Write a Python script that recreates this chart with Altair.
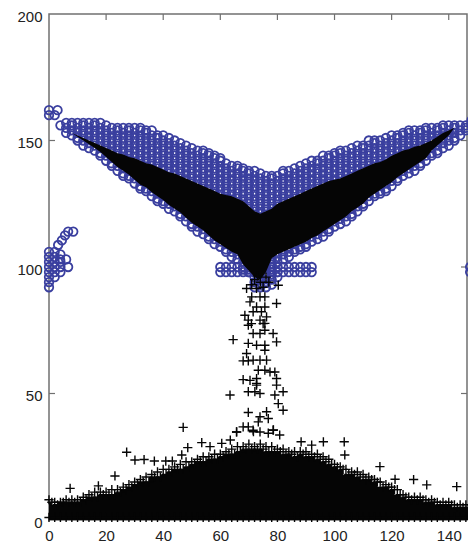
import altair as alt
import pandas as pd

band_x = list(range(4, 150, 2))
band_top = [156,157,157,157,157,157,157,157,156,155,155,155,155,155,155,154,153.5,152.5,151.5,151,150,149,147.5,147,146,145.5,145,144,143,141,140.5,140,139,138.5,138,137,136,135.5,136,137.5,138,139,140,141,142,142.5,143.5,144,145,145.5,146,147,147.5,148.5,149.5,150,150.5,151,151.5,152,153,153.5,154,154.5,155,155,155,155.5,155.5,156,156,156.5,157]
band_bot = [156,153,151.5,150,148.5,147,145.5,144,142,140,138,136.5,135,133,131,130,128,126.5,125,123,121.5,120,118,116,114.5,113,111,109,107.5,106,104.5,103,99,98,92,92,92,93,96,103,104.5,106,107,108.5,110,111,112.5,114,115.5,117,118.5,120.5,122,123.5,126,127.5,129,130.5,132,134,135.5,137,138.5,140,141.5,143.5,145,147,148.5,150.5,152.5,154.5,156]
shelf_x = list(range(60, 94, 2))
shelf_rows = [98, 100]
extra_x = [0,3,0,2,0,0,0,0,0,0,0,0,2,2,2,2,2,2,4,4,4,4,6.7,6,3.2,4.5,5.6,8.5,6.7,3.9,148,150,149,147.5,147.5]
extra_y = [162,162,160,160,92,94,96,98,100,102,104,106,96,98,100,102,104,106,98,100,102,105,100,103,108.7,110.5,112.5,114,114,103,158,158,156,98,100]

black_x = list(range(8, 144, 2))
black_top = [153,152,151,150,149,148,147,146,145,144.5,143.5,143,142,141,140.5,139.5,138.5,137.5,137,136,135,134,133,132,131,130,129,128.5,128,127,126,124,122,121,122,123,125,126,127,128,129,130,131,132,133,134,134.5,135,136,137,138,139,140,141,141.5,142.5,144,145,146,146.5,147.5,148,149,150,151.5,153,154,155]
black_bot = [153,151.5,150,148.5,147,145.5,143.5,141.5,139.5,138,136.5,134.5,132.5,131.5,129.5,128,126.5,124.5,123,121.5,119.5,117.5,116,114.5,112.5,110.5,109,107.5,106,105,101,98.5,96,95,98,103.5,105,106,107,108,109,110,111.5,112.5,114,115.5,117,118.5,120,122,123.5,125,127.5,129,130.5,132,133.5,135.5,137,138.5,140,141.5,143,146,148,150,152,155]

hill_x = list(range(0, 150, 2))
hill_top = [8,7,7,8,8,8,9,10,11,11,11,12,12,13,14,15,16,17,18,19,20,20,21,22,23,23,24,25,25,26,26,27,28,29,29,30,29,30,29,29,28,28,27,27,27,27,26,26,25,24,22,21,20,19,19,18,17,16,15,14,13,12,10,9,9,9,8,8,7,7,7,6,6,6,6]
hill_mid = [7,6,7,7,7,7,8,9,9,10,10,10,11,12,13,14,15,15,17,17,18,19,20,20,21,22,23,23,24,24,25,26,26,27,28,28,28,28,27,27,27,26,26,25,26,25,25,24,23,22,21,20,18,18,17,16,16,15,13,13,12,10,9,8,8,8,7,7,6,6,6,5,5,5,5]

neck_x = [69.2,72.7,80.3,71,73.9,75.6,79.7,70.4,72.7,75.6,71.5,74.4,68.6,69.8,73.9,76.2,75,70.9,64.5,69.8,75.6,71.5,73.9,78.5,75.6,69.8,72.7,75.6,79.7,75.6,68,69.8,71.5,73.9,76.2,69.2,73.3,75.6,77.4,79.1,68,70.4,72.7,72.7,79.7,63.4,69.8,72.7,72.1,73.9,79.1,79.7,82,80.3,69.8,73.3,76.2,76.8,73.9,82,69.8,71.5,73.9,65.7,68,78.5,72,74,76,71,75,77,73]
neck_y = [91.5,91.5,92.8,88.2,88.2,88.2,85.6,86.2,84.2,84.2,82.3,82.3,80.9,79,79,80.3,77.6,77.6,71.3,77,77.7,73.7,73.7,73.7,75,69.8,69.1,69.1,70.4,67.1,62.9,62.9,63.2,63.2,63.2,65.8,59.2,59.2,58.5,58.5,55.5,55.2,55.9,53.3,55.9,49.4,50.7,54,50.7,50,49.4,53.3,50.7,46,42.5,38.8,42.8,40.1,40.8,43.4,36.8,35.5,34.8,34.8,36.8,35.5,95,94,96,93,92,94,96.5]
out_x = [7.4,23.1,27.2,30.1,33.3,36.9,47,48.6,53.5,56.4,65.7,63.5,60.5,17.3,40.9,43.2,46.5,88.3,96.1,103.4,103.6,115.9,121.2,127.7,132.3,142.8,148.6,92,71.6,76.8,80.8,78.6]
out_y = [12.5,17.4,26.8,23.7,23.9,23.3,36.6,28.6,30.6,29,34.8,31.6,30.3,13.5,23.3,23.3,25.7,30.9,30.9,30.9,25.7,21.1,16.1,16,13.9,13.2,12.1,29.6,34.9,34.3,33.6,35.6]

x_ticks = [0,20,40,60,80,100,120,140]
y_ticks = [0,50,100,150,200]

BLUE = "#3a3f9f"
INK = "#050505"
FRAME = "#707070"
PLUS = "M-1,0H1M0,-1V1"

circ = []
for i, (x, t, b) in enumerate(zip(band_x, band_top, band_bot)):
    for y in range(round(b), round(t) + 1):
        if (y + i) % 2 == 0 or y == round(t) or y == round(b):
            circ.append({"x": x, "y": y})
for x in shelf_x:
    for y in shelf_rows:
        circ.append({"x": x, "y": y})
for x, y in zip(extra_x, extra_y):
    circ.append({"x": x, "y": y})
circ = pd.DataFrame(circ)

PLOT_W = 418
xs = alt.Scale(domain=[0, 146.4], nice=False, zero=False)
ys = alt.Scale(domain=[0, 200], nice=False, zero=False)
X = alt.X("x:Q", scale=xs, axis=alt.Axis(values=x_ticks, grid=False, domain=False, ticks=False, labelPadding=8,
          labelFontSize=15, labelFont="Liberation Sans", labelColor="#222", labelAngle=0, title=None, labelFlush=False, labelOverlap=False))
Y = alt.Y("y:Q", scale=ys, axis=alt.Axis(values=y_ticks, grid=False, domain=False, ticks=False, labelPadding=7, labelOffset=2,
          labelFontSize=15, labelFont="Liberation Sans", labelColor="#222", title=None))

circles = alt.Chart(circ).mark_point(shape="circle", filled=False, size=72, stroke=BLUE, strokeWidth=1.8, opacity=1).encode(x=X, y=Y)

cone = alt.Chart(pd.DataFrame({"x": black_x, "y": black_top, "y2": black_bot})).mark_area(color=INK, interpolate="linear").encode(
    x=X, y=Y, y2="y2:Q")

hill = alt.Chart(pd.DataFrame({"x": hill_x, "y": hill_mid, "y2": [0] * len(hill_x)})).mark_area(color=INK, interpolate="step").encode(
    x=X, y=Y, y2="y2:Q")

plus = lambda d: alt.Chart(d).mark_point(shape=PLUS, size=85, filled=False, stroke=INK, strokeWidth=1.4, opacity=1).encode(x=X, y=Y)
plus_hill = plus(pd.DataFrame({"x": hill_x, "y": hill_top}))
plus_mid = plus(pd.DataFrame({"x": [v + 1 for v in hill_x], "y": hill_mid}))
plus_floor = plus(pd.DataFrame({"x": hill_x, "y": [1] * len(hill_x)}))
plus_neck = plus(pd.DataFrame({"x": neck_x + out_x, "y": neck_y + out_y}))

top_marks = alt.Chart(pd.DataFrame({"x": x_ticks[1:]})).mark_rule(color=FRAME, strokeWidth=1.2).encode(
    x=alt.X("x:Q", scale=xs), y=alt.value(0), y2=alt.value(6))
left_marks = alt.Chart(pd.DataFrame({"y": y_ticks[1:-1]})).mark_rule(color=FRAME, strokeWidth=1.2).encode(
    y=alt.Y("y:Q", scale=ys), x=alt.value(0), x2=alt.value(6))
right_marks = alt.Chart(pd.DataFrame({"y": y_ticks[1:-1]})).mark_rule(color=FRAME, strokeWidth=1.2).encode(
    y=alt.Y("y:Q", scale=ys), x=alt.value(PLOT_W - 6), x2=alt.value(PLOT_W))

chart = alt.layer(top_marks, left_marks, right_marks, circles, cone, hill, plus_hill, plus_mid, plus_floor, plus_neck).properties(
    width=PLOT_W, height=506,
    autosize=alt.AutoSizeParams(type="none"),
    padding={"left": 41, "top": 6, "right": 1, "bottom": 24},
    background="white",
).configure_view(stroke=FRAME, strokeWidth=1.5)

chart.save("out.html", embed_options={"renderer": "svg", "actions": False})
